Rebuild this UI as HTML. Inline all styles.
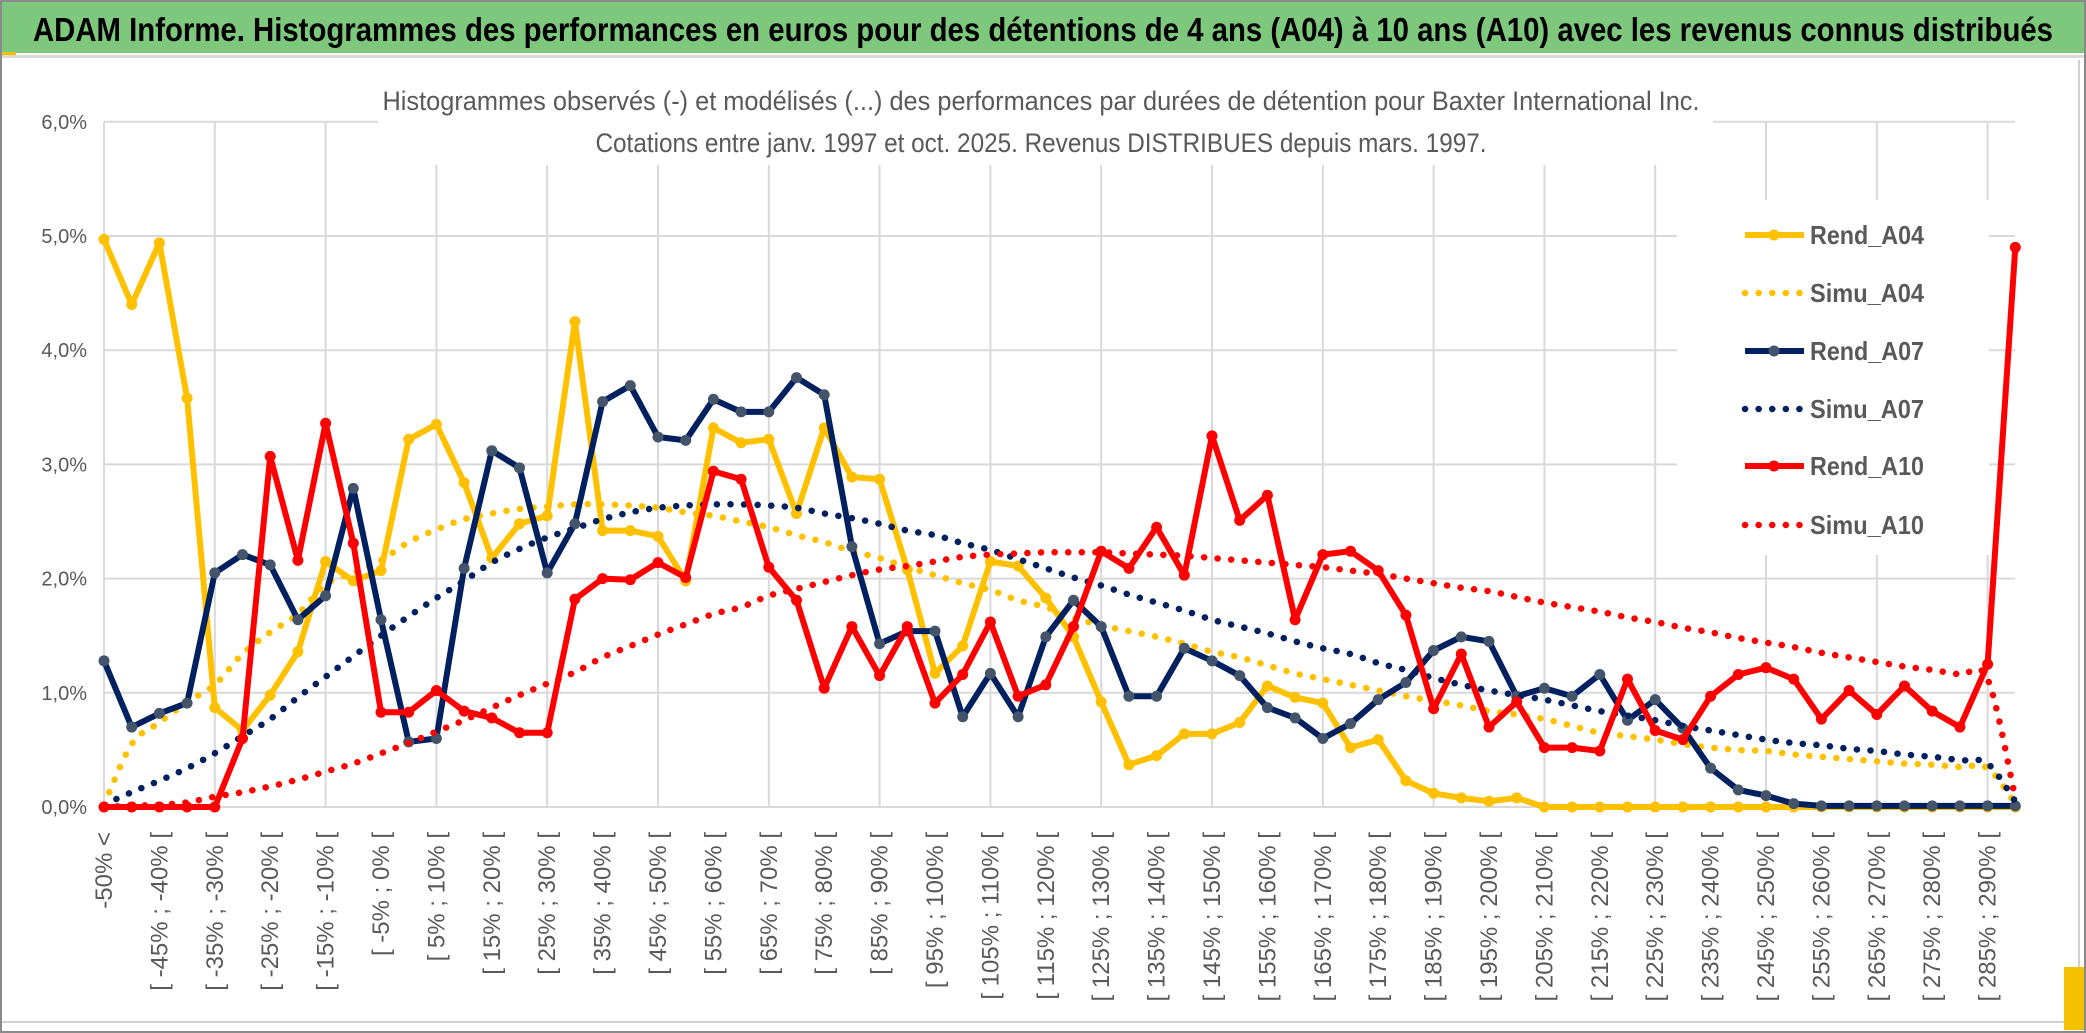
<!DOCTYPE html>
<html><head><meta charset="utf-8"><style>
html,body{margin:0;padding:0;background:#fff;}
svg{display:block;}
</style></head><body>
<svg id="chart" width="2086" height="1033" viewBox="0 0 2086 1033" xmlns="http://www.w3.org/2000/svg" font-family="Liberation Sans, sans-serif">
<rect x="0" y="0" width="2086" height="1033" fill="#fff"/>
<rect x="0" y="2" width="2086" height="51" fill="#7ec87e"/>
<rect x="0" y="0" width="2086" height="2" fill="#9a9a9a"/>
<rect x="0" y="52" width="16" height="4" fill="#f5c000"/>
<rect x="0" y="55" width="2086" height="3" fill="#d9d9d9"/>
<text x="33" y="41" font-size="33" font-weight="bold" fill="#000" textLength="2020" lengthAdjust="spacingAndGlyphs">ADAM Informe. Histogrammes des performances en euros pour des détentions de 4 ans (A04) à 10 ans (A10) avec les revenus connus distribués</text>
<g id="grid"></g>
<rect x="378" y="75" width="1335" height="90" fill="#fff"/>
<text x="1041" y="110" font-size="27" fill="#595959" text-anchor="middle" textLength="1317" lengthAdjust="spacingAndGlyphs">Histogrammes observés (-) et modélisés (...) des performances par durées de détention pour Baxter International Inc.</text>
<text x="1041" y="152" font-size="27" fill="#595959" text-anchor="middle" textLength="891" lengthAdjust="spacingAndGlyphs">Cotations entre janv. 1997 et oct. 2025. Revenus DISTRIBUES depuis mars. 1997.</text>
<rect x="1677" y="200" width="312" height="355" fill="#fff"/>
<g id="yaxis"></g>
<g id="xaxis"></g>
<g id="series"></g>
<g id="legend"></g>
<rect x="0" y="1021" width="2080" height="2" fill="#d0d0d0"/>
<rect x="2078" y="60" width="2" height="963" fill="#d0d0d0"/>
<rect x="2064" y="967" width="20" height="63" fill="#f5c000"/>
<rect x="1" y="1" width="2084" height="1031" fill="none" stroke="#8a8a8a" stroke-width="2"/>
</svg>
<script>
const categories = ["-50% <","[ -50% ; -45% [","[ -45% ; -40% [","[ -40% ; -35% [","[ -35% ; -30% [","[ -30% ; -25% [","[ -25% ; -20% [","[ -20% ; -15% [","[ -15% ; -10% [","[ -10% ; -5% [","[ -5% ; 0% [","[ 0% ; 5% [","[ 5% ; 10% [","[ 10% ; 15% [","[ 15% ; 20% [","[ 20% ; 25% [","[ 25% ; 30% [","[ 30% ; 35% [","[ 35% ; 40% [","[ 40% ; 45% [","[ 45% ; 50% [","[ 50% ; 55% [","[ 55% ; 60% [","[ 60% ; 65% [","[ 65% ; 70% [","[ 70% ; 75% [","[ 75% ; 80% [","[ 80% ; 85% [","[ 85% ; 90% [","[ 90% ; 95% [","[ 95% ; 100% [","[ 100% ; 105% [","[ 105% ; 110% [","[ 110% ; 115% [","[ 115% ; 120% [","[ 120% ; 125% [","[ 125% ; 130% [","[ 130% ; 135% [","[ 135% ; 140% [","[ 140% ; 145% [","[ 145% ; 150% [","[ 150% ; 155% [","[ 155% ; 160% [","[ 160% ; 165% [","[ 165% ; 170% [","[ 170% ; 175% [","[ 175% ; 180% [","[ 180% ; 185% [","[ 185% ; 190% [","[ 190% ; 195% [","[ 195% ; 200% [","[ 200% ; 205% [","[ 205% ; 210% [","[ 210% ; 215% [","[ 215% ; 220% [","[ 220% ; 225% [","[ 225% ; 230% [","[ 230% ; 235% [","[ 235% ; 240% [","[ 240% ; 245% [","[ 245% ; 250% [","[ 250% ; 255% [","[ 255% ; 260% [","[ 260% ; 265% [","[ 265% ; 270% [","[ 270% ; 275% [","[ 275% ; 280% [","[ 280% ; 285% [","[ 285% ; 290% [","[ 290% ; 295% ["];
const yTicks = [0,1,2,3,4,5,6];
const yTickLabels = ["0,0%","1,0%","2,0%","3,0%","4,0%","5,0%","6,0%"];
const rendA04 = [4.97,4.40,4.94,3.58,0.87,0.67,0.98,1.36,2.15,1.98,2.07,3.22,3.35,2.84,2.18,2.48,2.55,4.25,2.42,2.42,2.37,1.98,3.32,3.19,3.22,2.57,3.32,2.89,2.87,2.08,1.17,1.41,2.15,2.11,1.83,1.49,0.92,0.37,0.45,0.64,0.64,0.74,1.06,0.96,0.91,0.52,0.59,0.23,0.12,0.08,0.05,0.08,0,0,0,0,0,0,0,0,0,0,0,0,0,0,0,0,0,0];
const simuA04 = [0.02,0.55,0.74,0.92,1.07,1.34,1.53,1.69,1.95,2.05,2.16,2.32,2.43,2.52,2.57,2.61,2.63,2.65,2.65,2.64,2.62,2.58,2.55,2.50,2.45,2.38,2.32,2.24,2.18,2.10,2.03,1.96,1.90,1.81,1.75,1.66,1.59,1.54,1.49,1.43,1.36,1.31,1.24,1.17,1.12,1.07,1.02,0.97,0.93,0.89,0.84,0.81,0.77,0.71,0.65,0.62,0.59,0.55,0.52,0.50,0.49,0.46,0.44,0.42,0.40,0.38,0.37,0.35,0.34,0.03];
const rendA07 = [1.28,0.70,0.82,0.91,2.05,2.21,2.12,1.64,1.85,2.79,1.64,0.57,0.60,2.09,3.12,2.97,2.05,2.48,3.55,3.69,3.24,3.21,3.57,3.46,3.46,3.76,3.61,2.28,1.43,1.54,1.54,0.79,1.17,0.79,1.49,1.81,1.58,0.97,0.97,1.39,1.28,1.15,0.87,0.78,0.60,0.73,0.94,1.09,1.37,1.49,1.45,0.97,1.04,0.97,1.16,0.76,0.94,0.69,0.34,0.15,0.10,0.03,0.01,0.01,0.01,0.01,0.01,0.01,0.01,0.01];
const simuA07 = [0.02,0.13,0.23,0.34,0.47,0.62,0.77,0.96,1.14,1.32,1.50,1.67,1.83,1.98,2.14,2.26,2.36,2.44,2.52,2.58,2.62,2.64,2.65,2.65,2.64,2.62,2.57,2.53,2.48,2.42,2.38,2.31,2.25,2.17,2.09,2.01,1.94,1.86,1.79,1.72,1.64,1.58,1.52,1.45,1.39,1.34,1.26,1.20,1.13,1.07,1.02,0.98,0.94,0.89,0.84,0.80,0.76,0.71,0.67,0.63,0.59,0.56,0.54,0.51,0.49,0.46,0.44,0.41,0.38,0.05];
const rendA10 = [0,0,0,0,0,0.60,3.07,2.16,3.36,2.31,0.83,0.83,1.02,0.84,0.78,0.65,0.65,1.82,2.00,1.99,2.14,2.01,2.94,2.87,2.10,1.81,1.04,1.58,1.15,1.58,0.91,1.16,1.62,0.97,1.07,1.58,2.24,2.09,2.45,2.03,3.25,2.51,2.73,1.64,2.21,2.24,2.07,1.68,0.86,1.34,0.70,0.92,0.52,0.52,0.49,1.12,0.67,0.59,0.97,1.16,1.22,1.12,0.77,1.02,0.81,1.06,0.84,0.70,1.25,4.90];
const simuA10 = [0.00,0.01,0.02,0.04,0.09,0.13,0.18,0.24,0.31,0.38,0.47,0.56,0.66,0.76,0.87,0.98,1.08,1.18,1.31,1.41,1.51,1.60,1.69,1.75,1.85,1.91,1.97,2.03,2.08,2.11,2.15,2.19,2.21,2.22,2.23,2.23,2.23,2.22,2.21,2.20,2.18,2.16,2.14,2.12,2.10,2.07,2.04,2.00,1.96,1.92,1.89,1.84,1.79,1.75,1.71,1.66,1.62,1.57,1.53,1.48,1.44,1.40,1.35,1.31,1.27,1.23,1.20,1.16,1.12,0.08];

const NS = "http://www.w3.org/2000/svg";
const X0 = 104, DX = 27.7, Y0 = 807, DY = 114.2, XEND = 2015;
function xPos(i){ return X0 + i*DX; }
function yPos(v){ return Y0 - v*DY; }
function mk(tag, attrs, parent){ const e=document.createElementNS(NS,tag); for(const k in attrs) e.setAttribute(k,attrs[k]); parent.appendChild(e); return e; }

const grid = document.getElementById('grid');
yTicks.forEach(function(t){
  const l = mk('line',{x1:X0,x2:XEND,y1:yPos(t),y2:yPos(t),stroke:'#d9d9d9','stroke-width':2},grid);
  
  
});
for(let i=0;i<categories.length;i+=4){
  const l = mk('line',{x1:xPos(i),x2:xPos(i),y1:yPos(6),y2:Y0,stroke:'#d9d9d9','stroke-width':2},grid);
  
  
}

const yaxis = document.getElementById('yaxis');
yTicks.forEach(function(t,k){
  const tx = mk('text',{x:87,y:yPos(t)+7,'font-size':20,fill:'#595959','text-anchor':'end'},yaxis);
  tx.textContent = yTickLabels[k];
  
  
});

const xaxis = document.getElementById('xaxis');
categories.forEach(function(c,i){
  if(i%2!==0) return;
  const x = xPos(i)+8, y = 832;
  const tx = mk('text',{x:x,y:y,'font-size':24,fill:'#595959','text-anchor':'end',transform:'rotate(-90 '+x+' '+y+')'},xaxis);
  tx.textContent = c;
  
  
});

function smoothPath(pts){
  let d = 'M'+pts[0][0]+','+pts[0][1];
  for(let i=0;i<pts.length-1;i++){
    const p0=pts[Math.max(0,i-1)], p1=pts[i], p2=pts[i+1], p3=pts[Math.min(pts.length-1,i+2)];
    const c1x=p1[0]+(p2[0]-p0[0])/6, c1y=p1[1]+(p2[1]-p0[1])/6;
    const c2x=p2[0]-(p3[0]-p1[0])/6, c2y=p2[1]-(p3[1]-p1[1])/6;
    d += ' C'+c1x.toFixed(1)+','+c1y.toFixed(1)+' '+c2x.toFixed(1)+','+c2y.toFixed(1)+' '+p2[0].toFixed(1)+','+p2[1].toFixed(1);
  }
  return d;
}

const seriesG = document.getElementById('series');
function drawObserved(vals, color, markerColor, name){
  const g = mk('g',{},seriesG);
  
  
  const pts = vals.map(function(v,i){ return xPos(i).toFixed(1)+','+yPos(v).toFixed(1); }).join(' ');
  const pl = mk('polyline',{points:pts,fill:'none',stroke:color,'stroke-width':6,'stroke-linejoin':'round'},g);
  
  
  vals.forEach(function(v,i){
    const c = mk('circle',{cx:xPos(i),cy:yPos(v),r:5.5,fill:markerColor},g);
    
    
  });
}
function drawSimu(vals, color, name){
  const pts = vals.map(function(v,i){ return [xPos(i), yPos(v)]; });
  const p = mk('path',{d:smoothPath(pts),fill:'none',stroke:color,'stroke-width':6.5,'stroke-linecap':'round','stroke-dasharray':'0.1 13.5'},seriesG);
  
  
}
drawObserved(rendA04,'#ffc000','#ffc000','rend-a04');
drawSimu(simuA04,'#ffc000','simu-a04');
drawObserved(rendA07,'#002060','#44546a','rend-a07');
drawSimu(simuA07,'#002060','simu-a07');
drawObserved(rendA10,'#ff0000','#ff0000','rend-a10');
drawSimu(simuA10,'#ff0000','simu-a10');

const legendItems = [["Rend_A04","#ffc000","#ffc000",false],["Simu_A04","#ffc000",null,true],["Rend_A07","#002060","#44546a",false],["Simu_A07","#002060",null,true],["Rend_A10","#ff0000","#ff0000",false],["Simu_A10","#ff0000",null,true]];
const legendYs = [235,293,351,409,466,525];
const legend = document.getElementById('legend');
legendItems.forEach(function(it,k){
  const y = legendYs[k];
  const g = mk('g',{},legend);
  
  
  if(it[3]){
    mk('line',{x1:1745,x2:1800,y1:y,y2:y,stroke:it[1],'stroke-width':6.5,'stroke-linecap':'round','stroke-dasharray':'0.1 13.5'},g);
  } else {
    mk('line',{x1:1745,x2:1804,y1:y,y2:y,stroke:it[1],'stroke-width':6},g);
    mk('circle',{cx:1774,cy:y,r:5.5,fill:it[2]},g);
  }
  const t = mk('text',{x:1810,y:y+9,'font-size':26,fill:'#595959','font-weight':'bold',textLength:114,lengthAdjust:'spacingAndGlyphs'},g);
  t.textContent = it[0];
  
  
});
</script>
</body></html>
